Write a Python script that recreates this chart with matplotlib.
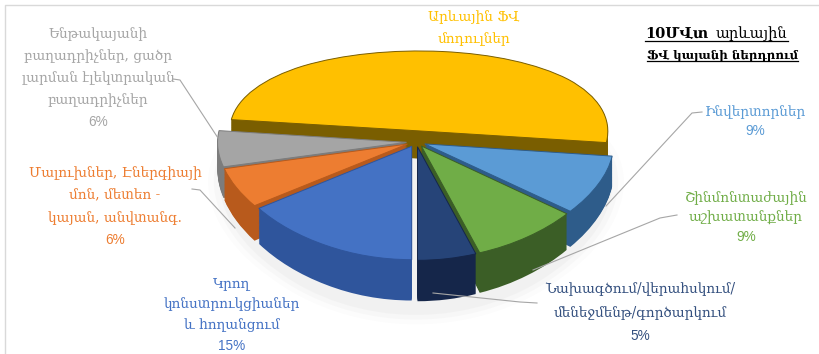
import numpy as np
import matplotlib.pyplot as plt
from matplotlib.lines import Line2D
from matplotlib.patches import Ellipse

W, H = 820, 354

categories = [
    "Կրող\nկոնստրուկցիաներ\nև հողանցում",
    "Մալուխներ, Էներգիայի\nմոն, մետեո -\nկայան, անվտանգ.",
    "Ենթակայանի\nբաղադրիչներ, ցածր\nլարման էլեկտրական\nբաղադրիչներ",
    "Արևային ՖՎ\nմոդուլներ",
    "Ինվերտորներ",
    "Շինմոնտաժային\nաշխատանքներ",
    "Նախագծում/վերահսկում/\nմենեջմենթ/գործարկում",
]
shares = [15, 6, 6, 50, 9, 9, 5]
show_pct = [True, True, True, False, True, True, True]

top_colors = ["#4472C4", "#ED7D31", "#A5A5A5", "#FFC000", "#5B9BD5", "#70AD47", "#264478"]
side_colors = ["#2F559C", "#B85A1C", "#7C7C7C", "#7A5E00", "#2E5C8A", "#3B5E26", "#15264A"]
text_colors = ["#4472C4", "#ED7D31", "#A5A5A5", "#FFC000", "#5B9BD5", "#70AD47", "#34507F"]
explode = [0.05, 0.05, 0.05, 0.12, 0.05, 0.05, 0.05]

# label anchor (centre x, first line y) in pixels and line step
label_pos = [(232, 283, 21), (115, 173, 22.5), (98, 34, 22), (474, 17, 22),
             (755, 112, 19), (746, 198, 19.5), (640, 288, 24)]
leaders = [
    None,
    [(192, 189), (200, 190), (235, 228)],
    [(173, 79), (180, 80), (218, 138)],
    None,
    [(702, 112), (692, 113), (606, 206)],
    [(677, 215), (660, 218), (533, 270)],
    [(537, 303), (520, 302), (433, 293)],
]

# pie placement in pixels; TILT squeezes the back and stretches the front
CX, CY, RX, RY = 416, 142, 189, 95
TILT = 0.15
DEPTH = 0.29
N_LAYERS = 40

ARM = ["DejaVu Serif", "DejaVu Sans"]


def fx(x):
    return x / W


def fy(y):
    return 1 - y / H


def persp(y):
    return y / (1 + TILT * y)


def persp_inv(s):
    return s / (1 - TILT * s)


fig = plt.figure(figsize=(W / 100, H / 100), dpi=100)
ax = fig.add_axes([0, 0, 1, 1])

# back slices first so the front ones cover them
cum = np.cumsum([0] + shares[:-1])
mids = np.radians(270 - (cum + np.array(shares) / 2) * 3.6)
order = np.argsort(-np.sin(mids))
rank = {idx: r for r, idx in enumerate(order)}

dz = DEPTH / N_LAYERS
for k in range(N_LAYERS, -1, -1):
    face = k == 0
    wedges, _ = ax.pie(shares, explode=explode, startangle=270, counterclock=False,
                       colors=top_colors if face else side_colors,
                       center=(0, -k * dz), radius=1)
    for i, w in enumerate(wedges):
        w.set_zorder(10 + rank[i] * 100 + (N_LAYERS - k))
        if face:
            w.set_edgecolor(side_colors[i])
            w.set_linewidth(0.7)
        else:
            w.set_linewidth(0)

# soft shadow under the front of the pie
for s, a in [(1.1, 0.025), (1.07, 0.035), (1.04, 0.045)]:
    ax.add_patch(Ellipse((0.0, -DEPTH - 0.1), 2 * s, 2 * s,
                         facecolor="#808080", alpha=a, edgecolor="none", zorder=1))

ax.set_aspect("auto")
ax.set_yscale("function", functions=(persp, persp_inv))
ax.set_xlim(-CX / RX, (W - CX) / RX)
ax.set_ylim(persp_inv(-(H - CY) / RY), persp_inv(CY / RY))
ax.axis("off")

# data labels
for i, name in enumerate(categories):
    x, y0, step = label_pos[i]
    lines = name.split("\n")
    for j, line in enumerate(lines):
        fig.text(fx(x), fy(y0 + j * step), line, ha="center", va="center",
                 fontsize=9.8, color=text_colors[i], family=ARM)
    if show_pct[i]:
        fig.text(fx(x), fy(y0 + len(lines) * step), f"{shares[i]}%", ha="center",
                 va="center", fontsize=9.8, color=text_colors[i], family="Liberation Sans")
    if leaders[i]:
        xs, ys = zip(*leaders[i])
        fig.add_artist(Line2D([fx(v) for v in xs], [fy(v) for v in ys],
                              color="#A6A6A6", lw=0.8, transform=fig.transFigure))

# title with underlines
renderer = fig.canvas.get_renderer()
t1 = fig.text(fx(645), fy(38), "10ՄՎտ", ha="left", va="baseline",
              fontsize=10.5, weight="bold", family=ARM)
b1 = t1.get_window_extent(renderer)
t2 = fig.text((b1.x1 + 8) / W, fy(38), "արևային", ha="left", va="baseline",
              fontsize=10.5, family=ARM)
b2 = t2.get_window_extent(renderer)
t3 = fig.text(fx(647), fy(58), "ՖՎ կայանի ներդրում", ha="left", va="baseline",
              fontsize=8.5, weight="bold", family=ARM)
b3 = t3.get_window_extent(renderer)
for x0, x1, y in [(b1.x0, b2.x1, 38 + 3), (b3.x0, b3.x1, 58 + 3)]:
    fig.add_artist(Line2D([x0 / W, x1 / W], [fy(y), fy(y)], color="black", lw=0.9,
                          transform=fig.transFigure))

# chart area border
fig.add_artist(Line2D([fx(5), fx(5), 1], [0, fy(5), fy(5)], color="#D9D9D9", lw=1.0,
                      transform=fig.transFigure))

fig.savefig("out.png", dpi=100)
